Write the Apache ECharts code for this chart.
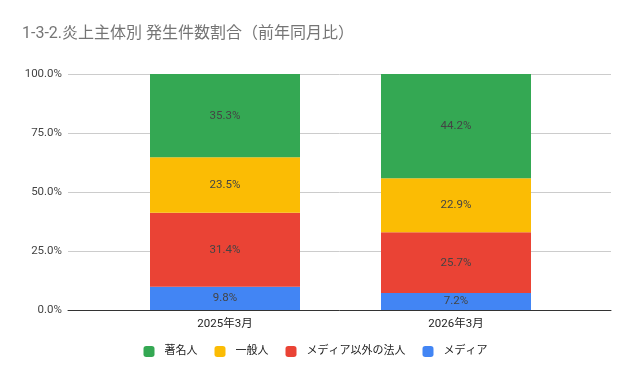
<!DOCTYPE html>
<html>
<head>
<meta charset="utf-8">
<script src="https://cdn.jsdelivr.net/npm/echarts@6/dist/echarts.min.js"></script>
<style>html,body{margin:0;padding:0;background:#fff;}#c{width:631px;height:371px;}</style>
</head>
<body>
<div id="c"></div>
<script>
const categories = ['2025年3月', '2026年3月'];
const seriesNames = ['メディア', 'メディア以外の法人', '一般人', '著名人'];
const media = [9.8, 7.2];
const corp = [31.4, 25.7];
const general = [23.5, 22.9];
const celeb = [35.3, 44.2];
const legendOrder = ['著名人', '一般人', 'メディア以外の法人', 'メディア'];
const colors = ['#4285F4', '#EA4335', '#FBBC04', '#34A853'];
const yTicks = [0, 25, 50, 75, 100];

const FONT = "Roboto, 'Noto Sans CJK JP', sans-serif";
const values = [media, corp, general, celeb];

const chart = echarts.init(document.getElementById('c'), null, {renderer: 'canvas'});
chart.setOption({
  animation: false,
  backgroundColor: '#fff',
  textStyle: {fontFamily: FONT},
  title: {
    text: '1-3-2.炎上主体別 発生件数割合（前年同月比）',
    left: 17, top: 21,
    textStyle: {fontFamily: FONT, fontSize: 16, fontWeight: 'normal', color: '#757575'}
  },
  legend: {
    data: legendOrder,
    left: 'center', top: 341,
    itemWidth: 11, itemHeight: 11, itemGap: 17,
    icon: 'roundRect',
    textStyle: {fontFamily: FONT, fontSize: 11, color: '#222', padding: [0, 0, 0, 5]}
  },
  grid: [
    {left: 68, right: 20, top: 74, bottom: 61},
    {left: 109.5, right: 59.5, top: 74, bottom: 61}
  ],
  xAxis: [
    {gridIndex: 0, type: 'category', data: categories, axisLine: {lineStyle: {color: '#333', width: 1}},
     axisTick: {show: false}, axisLabel: {show: false}},
    {gridIndex: 1, type: 'category', data: categories, axisLine: {show: false}, axisTick: {show: false},
     axisLabel: {fontFamily: FONT, fontSize: 11.5, color: '#222', margin: 8}}
  ],
  yAxis: [
    {gridIndex: 0, type: 'value', min: yTicks[0], max: yTicks[yTicks.length - 1], interval: 25,
     axisLine: {show: false}, axisTick: {show: false},
     splitLine: {lineStyle: {color: '#ccc', width: 1}},
     axisLabel: {fontFamily: FONT, fontSize: 11.5, color: '#444', margin: 6,
                 formatter: v => v.toFixed(1) + '%'}},
    {gridIndex: 1, type: 'value', min: 0, max: 100, interval: 25, show: false, splitLine: {show: false}}
  ],
  series: seriesNames.map((name, i) => ({
    name: name,
    type: 'bar',
    stack: 'total',
    xAxisIndex: 1, yAxisIndex: 1,
    barWidth: 150,
    itemStyle: {color: colors[i]},
    label: {show: true, position: 'inside', fontFamily: FONT, fontSize: 11.5, color: '#444',
            formatter: p => p.value.toFixed(1) + '%'},
    data: values[i]
  }))
});
</script>
</body>
</html>
